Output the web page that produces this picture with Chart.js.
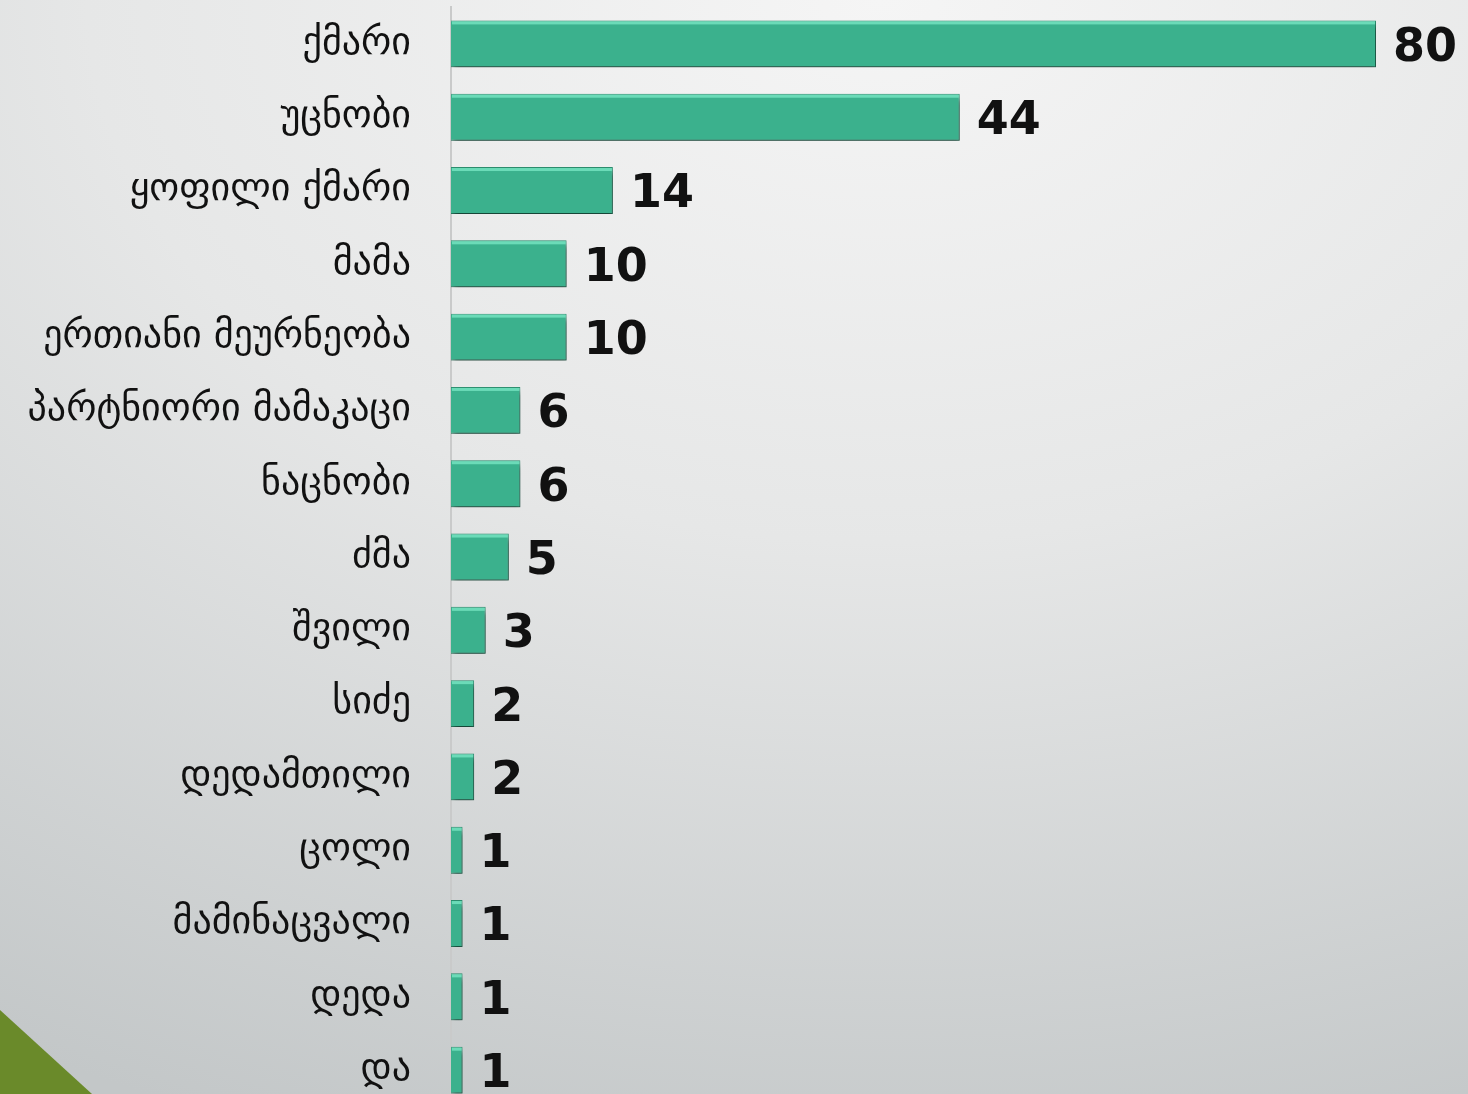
<!DOCTYPE html>
<html>
<head>
<meta charset="utf-8">
<script src="https://cdn.jsdelivr.net/npm/chart.js@4.4.0/dist/chart.umd.min.js"></script>
<style>
  html, body { margin: 0; padding: 0; overflow: hidden; }
  body {
    width: 1468px; height: 1094px; position: relative;
    background: radial-gradient(ellipse 120% 110% at 60% 0%, #f5f5f5 0%, #e6e7e7 45%, #c3c7c8 100%);
  }
  #wrap { position: absolute; left: 0; top: 0; width: 1468px; height: 1114px; }
  #tri {
    position: absolute; left: 0; top: 1010px; width: 92px; height: 84px;
    background: #6a8a2a; clip-path: polygon(0 0, 100% 100%, 0 100%);
  }
</style>
</head>
<body>
<div id="wrap"><canvas id="grafik" width="1468" height="1114"></canvas></div>
<div id="tri"></div>
<script>
// data
const kategori = [
  "ქმარი", "უცნობი", "ყოფილი ქმარი", "მამა", "ერთიანი მეურნეობა",
  "პარტნიორი მამაკაცი", "ნაცნობი", "ძმა", "შვილი", "სიძე",
  "დედამთილი", "ცოლი", "მამინაცვალი", "დედა", "და"
];
const jumlah = [80, 44, 14, 10, 10, 6, 6, 5, 3, 2, 2, 1, 1, 1, 1];

// bayangan bar
const shadowPlugin = {
  id: "shadowPlugin",
  beforeDatasetDraw(chart) {
    const ctx = chart.ctx;
    ctx.save();
    ctx.shadowColor = "rgba(0,0,0,0.55)";
    ctx.shadowBlur = 6;
    ctx.shadowOffsetX = 2;
    ctx.shadowOffsetY = 5;
  },
  afterDatasetDraw(chart) {
    chart.ctx.restore();
    // garis terang di atas bar
    const ctx = chart.ctx;
    const meta = chart.getDatasetMeta(0);
    ctx.save();
    meta.data.forEach(bar => {
      const top = bar.y - bar.height / 2;
      ctx.fillStyle = "rgba(120,230,195,0.8)";
      ctx.fillRect(bar.base + 1, top + 1, bar.x - bar.base - 2, 3);
    });
    ctx.restore();
  }
};

// label angka di ujung bar
const labelPlugin = {
  id: "labelPlugin",
  afterDatasetsDraw(chart) {
    const ctx = chart.ctx;
    const meta = chart.getDatasetMeta(0);
    ctx.save();
    ctx.font = "bold 46px 'DejaVu Sans'";
    ctx.fillStyle = "#111";
    ctx.textAlign = "left";
    ctx.textBaseline = "middle";
    meta.data.forEach((bar, i) => {
      ctx.fillText(String(jumlah[i]), bar.x + 17, bar.y + 5);
    });
    ctx.restore();
  }
};

new Chart(document.getElementById("grafik").getContext("2d"), {
  type: "bar",
  data: {
    labels: kategori,
    datasets: [{
      data: jumlah,
      backgroundColor: "#3bb18d",
      borderColor: "#2d8f70",
      borderWidth: 1,
      categoryPercentage: 1,
      barPercentage: 0.64
    }]
  },
  options: {
    indexAxis: "y",
    responsive: false,
    animation: false,
    layout: { padding: { top: 0, right: 92, bottom: 0, left: 0 } },
    plugins: { legend: { display: false }, tooltip: { enabled: false } },
    scales: {
      x: { display: false, min: 0, max: 80 },
      y: {
        grid: { display: true, drawOnChartArea: false, drawTicks: true, tickLength: 40, color: "rgba(0,0,0,0)" },
        border: { display: true, color: "#c9caca", width: 2 },
        ticks: {
          color: "#111",
          padding: 0,
          font: { family: "'DejaVu Sans'", size: 38, lineHeight: 0.38 }
        },
        afterFit(scale) { scale.width = 451; }
      }
    }
  },
  plugins: [shadowPlugin, labelPlugin]
});
</script>
</body>
</html>
